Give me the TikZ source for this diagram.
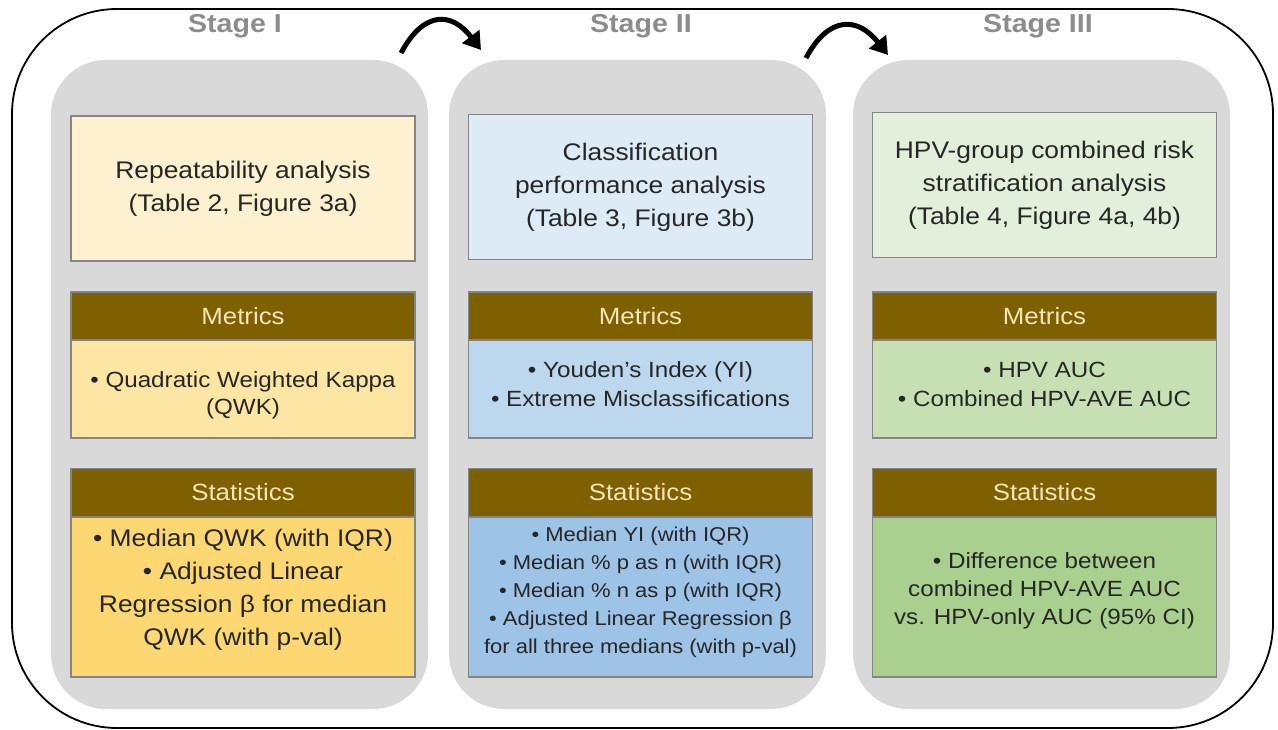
\documentclass[tikz,border=0pt]{standalone}
\usepackage{fontspec}
\setmainfont{Liberation Sans}[FakeStretch=1.1]
\usetikzlibrary{arrows.meta}
\definecolor{panelgray}{HTML}{D9D9D9}
\definecolor{boxline}{HTML}{858585}
\definecolor{topA}{HTML}{FDF1D0}
\definecolor{metA}{HTML}{FDE6A3}
\definecolor{statA}{HTML}{FCD772}
\definecolor{topB}{HTML}{DDEBF7}
\definecolor{metB}{HTML}{BDD7EE}
\definecolor{statB}{HTML}{9DC3E6}
\definecolor{topC}{HTML}{E2EFDA}
\definecolor{metC}{HTML}{C6E0B4}
\definecolor{statC}{HTML}{A9D08E}
\definecolor{hdrbrown}{HTML}{7F6000}
\definecolor{hdrtext}{HTML}{F3E5B5}
\definecolor{bodytext}{HTML}{262626}
\definecolor{stagegray}{HTML}{8C8C8C}
\tikzset{
  panel/.style={fill=panelgray, draw=none, rounded corners=55pt},
  boxbase/.style={draw=boxline, line width=1.1pt, minimum width=344pt, inner sep=0pt, outer sep=0pt, align=center, text=bodytext},
  topbox/.style={boxbase, minimum height=145pt, font=\fontsize{24}{33}\selectfont},
  hdrbox/.style={boxbase, fill=hdrbrown, minimum height=48pt, text=hdrtext, font=\fontsize{23.5}{28}\selectfont},
  metbox/.style={boxbase, minimum height=98pt},
  statbox/.style={boxbase, minimum height=160pt},
  txt/.style={align=center, text=bodytext, inner sep=0pt},
  stagelbl/.style={text=stagegray, font=\fontsize{26}{30}\selectfont\bfseries, inner sep=0pt, anchor=base},
  flow/.style={line width=5pt, -{Triangle[length=17pt,width=21pt]}}
}
\begin{document}
\begin{tikzpicture}[x=1pt,y=-1pt]
\useasboundingbox (0,0) rectangle (1278,730);
% outer frame
\draw[line width=1.8pt, rounded corners=105pt] (12,9) rectangle (1273,728);
% panels
\fill[panel] (51,60) rectangle (428,709);
\fill[panel] (449,60) rectangle (826,709);
\fill[panel] (853,60) rectangle (1230,709);
% stage labels
\node[stagelbl] (s1) at (235,33) {Stage I};
\node[stagelbl] (s2) at (641,33) {Stage II};
\node[stagelbl] (s3) at (1038,33) {Stage III};
% arrows
\coordinate (a1s) at (401,53);
\coordinate (a1e) at (481,50);
\coordinate (a2s) at (806,58);
\coordinate (a2e) at (888,55);
\draw[flow] (a1s) .. controls (424,10) and (452,12) .. (a1e);
\draw[flow] (a2s) .. controls (829,15) and (858,17) .. (a2e);
% column 1
\node[topbox, fill=topA] (t1) at (243,188.5) {Repeatability analysis\\(Table 2, Figure 3a)};
\node[hdrbox] (mh1) at (243,316) {Metrics};
\node[metbox, fill=metA] (mb1) at (243,389) {};
\node[hdrbox] (sh1) at (243,492.5) {Statistics};
\node[statbox, fill=statA] (sb1) at (243,597) {};
\node[txt, font=\fontsize{22}{27}\selectfont] (mt1) at (243,395) {• Quadratic Weighted Kappa\\(QWK)};
\node[txt, font=\fontsize{24}{33}\selectfont] (st1) at (243,590) {• Median QWK (with IQR)\\• Adjusted Linear\\Regression β for median\\QWK (with p-val)};
% column 2
\node[topbox, fill=topB] (t2) at (640.5,187) {Classification\\performance analysis\\(Table 3, Figure 3b)};
\node[hdrbox] (mh2) at (640.5,316) {Metrics};
\node[metbox, fill=metB] (mb2) at (640.5,389) {};
\node[hdrbox] (sh2) at (640.5,492.5) {Statistics};
\node[statbox, fill=statB] (sb2) at (640.5,597) {};
\node[txt, font=\fontsize{22}{29}\selectfont] (mt2) at (640.5,384) {• Youden’s Index (YI)\\• Extreme Misclassifications};
\node[txt, font=\fontsize{20}{28}\selectfont] (st2) at (640.5,592) {• Median YI (with IQR)\\• Median \% p as n (with IQR)\\• Median \% n as p (with IQR)\\• Adjusted Linear Regression β\\for all three medians (with p-val)};
% column 3
\node[topbox, fill=topC] (t3) at (1044.5,185) {HPV-group combined risk\\stratification analysis\\(Table 4, Figure 4a, 4b)};
\node[hdrbox] (mh3) at (1044.5,316) {Metrics};
\node[metbox, fill=metC] (mb3) at (1044.5,389) {};
\node[hdrbox] (sh3) at (1044.5,492.5) {Statistics};
\node[statbox, fill=statC] (sb3) at (1044.5,597) {};
\node[txt, font=\fontsize{22}{29}\selectfont] (mt3) at (1044.5,384) {• HPV AUC\\• Combined HPV-AVE AUC};
\node[txt, font=\fontsize{22}{28}\selectfont] (st3) at (1044.5,591) {• Difference between\\combined HPV-AVE AUC\\vs. HPV-only AUC (95\% CI)};
\end{tikzpicture}
\end{document}
